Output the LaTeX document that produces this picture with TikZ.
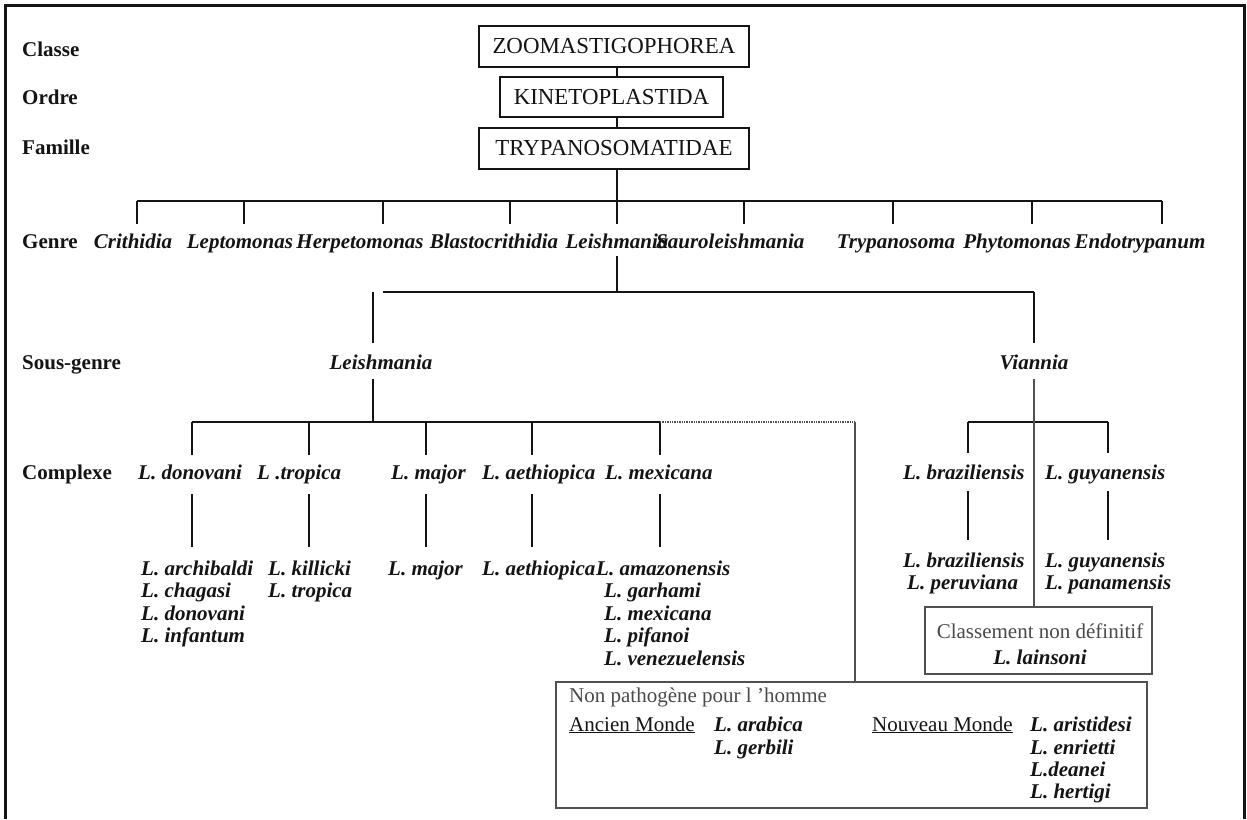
\documentclass[tikz,border=0pt]{standalone}
\usepackage{fontspec}
\setmainfont{Liberation Serif}
\definecolor{ink}{HTML}{141414}
\definecolor{soft}{HTML}{4A4A4A}
\definecolor{thinline}{HTML}{505050}
\tikzset{
  rank/.style={anchor=base west, inner sep=0pt, text=ink, font=\fontsize{21}{22}\selectfont\bfseries},
  taxon/.style={inner sep=0pt, text=ink, font=\fontsize{21}{22}\selectfont\bfseries\itshape},
  plaintext/.style={inner sep=0pt, text=soft, font=\fontsize{21}{22}\selectfont},
  topbox/.style={draw=ink, line width=2pt, text=ink, font=\fontsize{22.9}{24}\selectfont, inner sep=0pt, minimum height=41pt},
  tree/.style={draw=ink, line width=2pt},
  thinbranch/.style={draw=thinline, line width=1.3pt},
  dotbranch/.style={draw=thinline, line width=1.4pt, densely dotted},
  lowbox/.style={draw=thinline, line width=1.4pt},
}
\begin{document}
\begin{tikzpicture}[x=1pt,y=-1pt]
\useasboundingbox (0,0) rectangle (1247,819);
\fill[white] (0,0) rectangle (1247,819);
% frame
\draw[ink, line width=3pt] (5,819) -- (5,5) -- (1244,5) -- (1244,819);

% rank labels
\node[rank] (rClasse) at (22,56) {Classe};
\node[rank] (rOrdre) at (22,104) {Ordre};
\node[rank] (rFamille) at (22,154) {Famille};
\node[rank] (rGenre) at (22,248) {Genre};
\node[rank] (rSous) at (22,369) {Sous-genre};
\node[rank] (rComplexe) at (22,479) {Complexe};

% top boxes
\coordinate (axis) at (617,201);
\node[topbox, minimum width=270pt] (zoo) at (614,46.5) {ZOOMASTIGOPHOREA};
\node[topbox, minimum width=223pt, minimum height=40pt] (kin) at (611.5,97) {KINETOPLASTIDA};
\node[topbox, minimum width=270pt] (try) at (614,148) {TRYPANOSOMATIDAE};
\draw[tree] (zoo.south -| axis) -- (kin.north -| axis);
\draw[tree] (kin.south -| axis) -- (try.north -| axis);
\draw[tree] (try.south -| axis) -- (axis);

% genre line
\coordinate (gl) at (137,201);
\coordinate (gr) at (1162,201);
\draw[tree] (gl) -- (gr);
\foreach \n/\x in {cri/137,lep/244,her/383,bla/510,lei/617,sau/744,tryp/893,phy/1032,end/1162}{
  \coordinate (t\n) at (\x,224);
  \draw[tree] (t\n |- gl) -- (t\n);
}
\node[taxon, anchor=base] (gCri) at (133,248) {Crithidia};
\node[taxon, anchor=base] (gLep) at (240,248) {Leptomonas};
\node[taxon, anchor=base] (gHer) at (360,248) {Herpetomonas};
\node[taxon, anchor=base] (gBla) at (494,248) {Blastocrithidia};
\node[taxon, anchor=base] (gLei) at (617,248) {Leishmania};
\node[taxon, anchor=base west] (gSau) at (656,248) {Sauroleishmania};
\node[taxon, anchor=base] (gTry) at (896,248) {Trypanosoma};
\node[taxon, anchor=base] (gPhy) at (1017,248) {Phytomonas};
\node[taxon, anchor=base] (gEnd) at (1140,248) {Endotrypanum};

% Leishmania -> subgenera
\coordinate (lgTop) at (617,256);
\coordinate (lgJoin) at (617,292);
\coordinate (sgL) at (383,292);
\coordinate (sgR) at (1034,292);
\draw[tree] (lgTop) -- (lgJoin);
\draw[tree] (sgL) -- (sgR);
\coordinate (subLtop) at (373,292);
\coordinate (subLa) at (373,343);
\draw[tree] (subLtop) -- (subLa);
\coordinate (subRa) at (1034,343);
\draw[tree] (sgR) -- (subRa);
\node[taxon, anchor=base] (sLei) at (381,369) {Leishmania};
\node[taxon, anchor=base] (sVia) at (1034,369) {Viannia};

% Leishmania subgenus -> complexes
\coordinate (subLb) at (373,379);
\coordinate (cxJ) at (373,422);
\draw[tree] (subLb) -- (cxJ);
\coordinate (cxL) at (192,422);
\coordinate (cxR) at (660,422);
\draw[tree] (cxL) -- (cxR);
\foreach \n/\x in {don/192,tro/309,maj/426,aet/532,mex/660}{
  \coordinate (c\n) at (\x,455);
  \draw[tree] (c\n |- cxL) -- (c\n);
  \coordinate (d\n) at (\x,494);
  \coordinate (e\n) at (\x,547);
  \draw[tree] (d\n) -- (e\n);
}
\node[taxon, anchor=base west] (kDon) at (138,479) {L. donovani};
\node[taxon, anchor=base west] (kTro) at (257,479) {L .tropica};
\node[taxon, anchor=base west] (kMaj) at (391,479) {L. major};
\node[taxon, anchor=base west] (kAet) at (482,479) {L. aethiopica};
\node[taxon, anchor=base west] (kMex) at (605,479) {L. mexicana};

% species lists (Leishmania)
\node[taxon, anchor=base west] (s1) at (141,575) {L. archibaldi};
\node[taxon, anchor=base west] (s2) at (141,597) {L. chagasi};
\node[taxon, anchor=base west] (s3) at (141,620) {L. donovani};
\node[taxon, anchor=base west] (s4) at (141,642) {L. infantum};
\node[taxon, anchor=base west] (s5) at (268,575) {L. killicki};
\node[taxon, anchor=base west] (s6) at (268,597) {L. tropica};
\node[taxon, anchor=base west] (s7) at (388,575) {L. major};
\node[taxon, anchor=base west] (s8) at (482,575) {L. aethiopica};
\node[taxon, anchor=base west] (s9) at (596,575) {L. amazonensis};
\node[taxon, anchor=base west] (s10) at (604,597) {L. garhami};
\node[taxon, anchor=base west] (s11) at (604,620) {L. mexicana};
\node[taxon, anchor=base west] (s12) at (604,642) {L. pifanoi};
\node[taxon, anchor=base west] (s13) at (604,665) {L. venezuelensis};

% Viannia
\coordinate (subRb) at (1034,379);
\coordinate (vL) at (968,422);
\coordinate (vR) at (1108,422);
\draw[tree] (vL) -- (vR);
\foreach \n/\x in {bra/968,guy/1108}{
  \coordinate (c\n) at (\x,453);
  \draw[tree] (c\n |- vL) -- (c\n);
  \coordinate (d\n) at (\x,491);
  \coordinate (e\n) at (\x,540);
  \draw[tree] (d\n) -- (e\n);
}
\node[taxon, anchor=base west] (kBra) at (903,479) {L. braziliensis};
\node[taxon, anchor=base west] (kGuy) at (1045,479) {L. guyanensis};
\node[taxon, anchor=base west] (v1) at (903,567) {L. braziliensis};
\node[taxon, anchor=base west] (v2) at (907,589) {L. peruviana};
\node[taxon, anchor=base west] (v3) at (1045,567) {L. guyanensis};
\node[taxon, anchor=base west] (v4) at (1045,589) {L. panamensis};

% Classement box
\node[lowbox, minimum width=227pt, minimum height=67pt, inner sep=0pt] (cls) at (1038.5,640.5) {};
\draw[thinbranch] (subRb) -- (cls.north -| subRb);
\node[plaintext, anchor=base] (clsT) at (1040,638) {Classement non définitif};
\node[taxon, anchor=base] (clsS) at (1040,664) {L. lainsoni};

% Non pathogene box
\node[lowbox, minimum width=591pt, minimum height=126pt, inner sep=0pt] (np) at (851.5,745) {};
\coordinate (dotA) at (855,422);
\draw[dotbranch] (cxR) -- (dotA);
\draw[thinbranch] (dotA) -- (np.north -| dotA);
\node[plaintext, anchor=base west] (npT) at (569,702) {Non pathogène pour l 'homme};
\node[plaintext, anchor=base west, text=ink] (anc) at (569,731) {\underline{Ancien Monde}};
\node[taxon, anchor=base west] (a1) at (714,731) {L. arabica};
\node[taxon, anchor=base west] (a2) at (714,754) {L. gerbili};
\node[plaintext, anchor=base west, text=ink] (nou) at (872,731) {\underline{Nouveau Monde}};
\node[taxon, anchor=base west] (n1) at (1030,731) {L. aristidesi};
\node[taxon, anchor=base west] (n2) at (1030,754) {L. enrietti};
\node[taxon, anchor=base west] (n3) at (1030,776) {L.deanei};
\node[taxon, anchor=base west] (n4) at (1030,798) {L. hertigi};
\end{tikzpicture}
\end{document}
